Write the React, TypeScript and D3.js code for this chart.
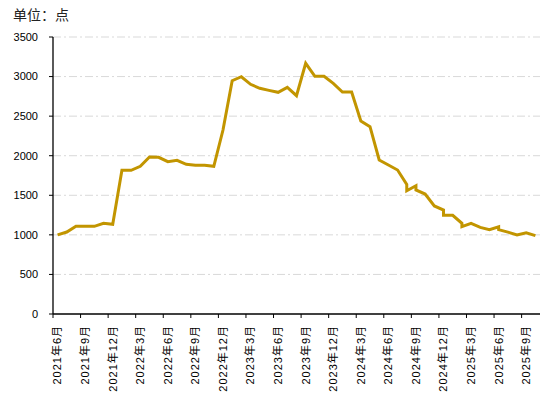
import { useMemo } from "react";
import * as d3 from "d3";

const WIDTH = 554;
const HEIGHT = 403;
const MARGIN = { top: 37, right: 14, bottom: 89, left: 53 };

// month of each observation (repeated month = several readings in that month)
const months = [
  "2021-06", "2021-07", "2021-08", "2021-09", "2021-10", "2021-11", "2021-12",
  "2022-01", "2022-02", "2022-03", "2022-04", "2022-05", "2022-06", "2022-07",
  "2022-08", "2022-09", "2022-10", "2022-11", "2022-12",
  "2023-01", "2023-02", "2023-03", "2023-04", "2023-05", "2023-06", "2023-07",
  "2023-08", "2023-09", "2023-10", "2023-11", "2023-12",
  "2024-01", "2024-02", "2024-03", "2024-04", "2024-05", "2024-06", "2024-07",
  "2024-08", "2024-08", "2024-09", "2024-09", "2024-10", "2024-11",
  "2024-12", "2024-12",
  "2025-01", "2025-02", "2025-02", "2025-03", "2025-04", "2025-05",
  "2025-06", "2025-06", "2025-07", "2025-08", "2025-09", "2025-10",
];

const values = [
  1000, 1036, 1108, 1108, 1108, 1146, 1133,
  1815, 1815, 1866, 1984, 1980, 1925, 1942,
  1891, 1879, 1879, 1866, 2325,
  2948, 2998, 2902, 2852, 2826, 2801, 2864,
  2759, 3168, 3003, 3003, 2915,
  2805, 2805, 2438, 2367, 1946, 1883, 1819,
  1638, 1558, 1621, 1567, 1516, 1365,
  1314, 1247,
  1247, 1146, 1103, 1146, 1095, 1065,
  1103, 1065, 1035, 998, 1025, 990,
];

// month slots on the axis
const axisMonths = [
  "2021-06", "2021-07", "2021-08", "2021-09", "2021-10", "2021-11", "2021-12",
  "2022-01", "2022-02", "2022-03", "2022-04", "2022-05", "2022-06", "2022-07",
  "2022-08", "2022-09", "2022-10", "2022-11", "2022-12",
  "2023-01", "2023-02", "2023-03", "2023-04", "2023-05", "2023-06", "2023-07",
  "2023-08", "2023-09", "2023-10", "2023-11", "2023-12",
  "2024-01", "2024-02", "2024-03", "2024-04", "2024-05", "2024-06", "2024-07",
  "2024-08", "2024-09", "2024-10", "2024-11", "2024-12",
  "2025-01", "2025-02", "2025-03", "2025-04", "2025-05", "2025-06", "2025-07",
  "2025-08", "2025-09", "2025-10",
];

const yTicks = [0, 500, 1000, 1500, 2000, 2500, 3000, 3500];

const FONT = "'Liberation Sans', 'Noto Sans CJK SC', sans-serif";

const monthLabel = (m: string) => {
  const [y, mo] = m.split("-");
  return `${y}年${+mo}月`;
};

const App = () => {
  const boundsWidth = WIDTH - MARGIN.left - MARGIN.right;
  const boundsHeight = HEIGHT - MARGIN.top - MARGIN.bottom;

  const xScale = useMemo(
    () => d3.scaleBand().domain(axisMonths).range([0, boundsWidth]).padding(0),
    [boundsWidth]
  );
  const yScale = useMemo(
    () => d3.scaleLinear().domain([0, 3500]).range([boundsHeight, 0]),
    [boundsHeight]
  );

  const data = months.map((m, i) => ({ m, v: values[i] }));
  const linePath = d3
    .line<{ m: string; v: number }>()
    .x((d) => (xScale(d.m) ?? 0) + xScale.bandwidth() / 2)
    .y((d) => yScale(d.v))(data);

  const tickMonths = axisMonths.filter((_, i) => i % 3 === 0);

  return (
    <svg
      width={WIDTH}
      height={HEIGHT}
      style={{ position: "absolute", left: 0, top: 0, background: "#fff" }}
    >
      <text x={13} y={20} fontSize={14} fontFamily={FONT} fill="#222">
        单位：点
      </text>
      <g transform={`translate(${MARGIN.left},${MARGIN.top})`}>
        {yTicks.map((t) => (
          <g key={t}>
            {t > 0 && (
              <line
                x1={0}
                x2={boundsWidth}
                y1={yScale(t)}
                y2={yScale(t)}
                stroke="#d9d9d9"
                strokeWidth={1}
                strokeDasharray="8 3 2 3"
              />
            )}
            <line x1={-4} x2={0} y1={yScale(t)} y2={yScale(t)} stroke="#000" />
            <text
              x={-15}
              y={yScale(t)}
              dy="0.35em"
              textAnchor="end"
              fontSize={11}
              fontFamily={FONT}
              fill="#000"
            >
              {t}
            </text>
          </g>
        ))}
        <line x1={0} x2={0} y1={0} y2={boundsHeight} stroke="#000" strokeWidth={1.3} />
        <line
          x1={0}
          x2={boundsWidth}
          y1={boundsHeight}
          y2={boundsHeight}
          stroke="#000"
          strokeWidth={1.3}
        />
        {tickMonths.map((m) => {
          const x = xScale(m) ?? 0;
          return (
            <g key={m}>
              <line x1={x} x2={x} y1={boundsHeight} y2={boundsHeight + 4} stroke="#000" />
              <text
                transform={`translate(${x + xScale.bandwidth() / 2},${boundsHeight + 11}) rotate(-90)`}
                textAnchor="end"
                dy="0.35em"
                fontSize={11}
                letterSpacing={1}
                fontFamily={FONT}
                fill="#000"
              >
                {monthLabel(m)}
              </text>
            </g>
          );
        })}
        <path
          d={linePath ?? ""}
          fill="none"
          stroke="#C29500"
          strokeWidth={3}
          strokeLinejoin="miter"
        />
      </g>
    </svg>
  );
};

export default App;
